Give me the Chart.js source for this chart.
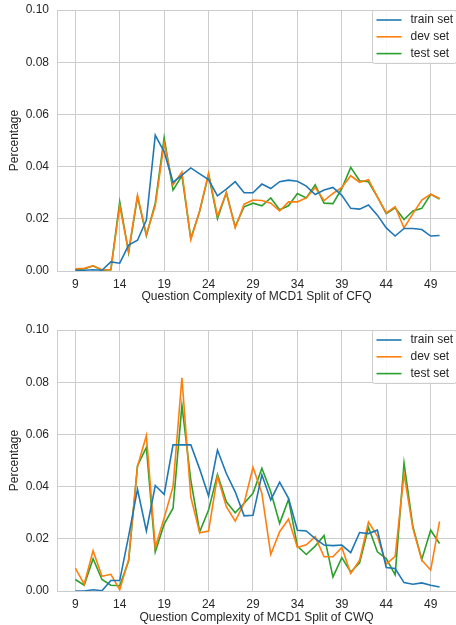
<!DOCTYPE html>
<html>
<head>
<meta charset="utf-8">
<script src="https://cdn.jsdelivr.net/npm/chart.js@4.4.1/dist/chart.umd.min.js"></script>
<style>
    html, body { margin: 0; padding: 0; background: #fff; }
    canvas { display: block; }
</style>
</head>
<body>
<canvas id="cfqChart" width="456" height="310"></canvas>
<canvas id="cwqChart" width="456" height="315"></canvas>
<script>
// question complexity values (x axis)
const complexity = [9, 10, 11, 12, 13, 14, 15, 16, 17, 18, 19, 20, 21, 22, 23, 24, 25, 26, 27, 28, 29,
    30, 31, 32, 33, 34, 35, 36, 37, 38, 39, 40, 41, 42, 43, 44, 45, 46, 47, 48, 49, 50];
const xTicks = [9, 14, 19, 24, 29, 34, 39, 44, 49];
const yTicks = [0, 0.02, 0.04, 0.06, 0.08, 0.10];
const seriesNames = ['train set', 'dev set', 'test set'];

// MCD1 split of CFQ
const cfqTrain = [0.0002, 0.0003, 0.0005, 0.0003, 0.0035, 0.0030, 0.0099, 0.0118, 0.0195, 0.0520, 0.0457,
    0.0340, 0.0367, 0.0395, 0.0372, 0.0350, 0.0288, 0.0314, 0.0342, 0.0300, 0.0300, 0.0333, 0.0316, 0.0342,
    0.0348, 0.0344, 0.0325, 0.0293, 0.0310, 0.0320, 0.0290, 0.0240, 0.0237, 0.0253, 0.0214, 0.0165, 0.0134,
    0.0163, 0.0163, 0.0159, 0.0134, 0.0136];
const cfqDev = [0.0008, 0.0010, 0.0020, 0.0005, 0.0005, 0.0250, 0.0075, 0.0290, 0.0140, 0.0250, 0.0490,
    0.0330, 0.0380, 0.0120, 0.0230, 0.0375, 0.0210, 0.0300, 0.0165, 0.0256, 0.0272, 0.0270, 0.0260, 0.0230,
    0.0265, 0.0265, 0.0280, 0.0320, 0.0270, 0.0297, 0.0320, 0.0365, 0.0340, 0.0350, 0.0284, 0.0223, 0.0246,
    0.0165, 0.0220, 0.0272, 0.0294, 0.0278];
const cfqTest = [0.0005, 0.0008, 0.0020, 0.0003, 0.0005, 0.0265, 0.0070, 0.0285, 0.0135, 0.0260, 0.0510,
    0.0310, 0.0365, 0.0125, 0.0230, 0.0370, 0.0200, 0.0300, 0.0170, 0.0246, 0.0260, 0.0250, 0.0280, 0.0235,
    0.0250, 0.0297, 0.0280, 0.0330, 0.0260, 0.0258, 0.0316, 0.0397, 0.0346, 0.0342, 0.0284, 0.0220, 0.0242,
    0.0197, 0.0230, 0.0240, 0.0294, 0.0276];

// MCD1 split of CWQ
const cwqTrain = [0.0000, 0.0000, 0.0005, 0.0001, 0.0040, 0.0040, 0.0210, 0.0390, 0.0230, 0.0404, 0.0370,
    0.0560, 0.0560, 0.0560, 0.0467, 0.0364, 0.0540, 0.0450, 0.0380, 0.0288, 0.0290, 0.0445, 0.0349, 0.0417,
    0.0355, 0.0233, 0.0230, 0.0201, 0.0176, 0.0174, 0.0176, 0.0147, 0.0224, 0.0220, 0.0233, 0.0090, 0.0086,
    0.0032, 0.0026, 0.0031, 0.0022, 0.0015];
const cwqDev = [0.0088, 0.0026, 0.0154, 0.0056, 0.0064, 0.0005, 0.0120, 0.0477, 0.0596, 0.0167, 0.0280,
    0.0400, 0.0817, 0.0360, 0.0223, 0.0230, 0.0440, 0.0323, 0.0268, 0.0336, 0.0474, 0.0374, 0.0140, 0.0227,
    0.0276, 0.0167, 0.0177, 0.0208, 0.0131, 0.0131, 0.0167, 0.0067, 0.0118, 0.0264, 0.0210, 0.0103, 0.0133,
    0.0449, 0.0240, 0.0118, 0.0080, 0.0267];
const cwqTest = [0.0044, 0.0022, 0.0124, 0.0044, 0.0022, 0.0020, 0.0115, 0.0480, 0.0550, 0.0150, 0.0256,
    0.0317, 0.0711, 0.0425, 0.0227, 0.0310, 0.0447, 0.0342, 0.0300, 0.0336, 0.0374, 0.0470, 0.0380, 0.0259,
    0.0351, 0.0172, 0.0140, 0.0172, 0.0213, 0.0054, 0.0128, 0.0073, 0.0108, 0.0244, 0.0150, 0.0124, 0.0062,
    0.0490, 0.0246, 0.0121, 0.0233, 0.0182];

const colors = ['#1f77b4', '#ff7f0e', '#2ca02c'];
const textColor = '#262626';
const gridColor = '#cccccc';
const font = { family: "'Liberation Sans', Arial, sans-serif", size: 12 };

// legend box drawn inside the plot, upper right (like matplotlib)
const insideLegend = {
    id: 'insideLegend',
    afterDatasetsDraw(chart) {
        const { ctx, chartArea } = chart;
        const w = 84, h = 53;
        const x = chartArea.right - w + 0.5, y = chartArea.top + 0.5;
        ctx.save();
        ctx.fillStyle = 'rgba(255,255,255,0.85)';
        ctx.strokeStyle = gridColor;
        ctx.lineWidth = 1;
        ctx.beginPath();
        ctx.roundRect(x, y, w, h, 2);
        ctx.fill();
        ctx.stroke();
        ctx.font = `${font.size}px ${font.family}`;
        ctx.textBaseline = 'middle';
        chart.data.datasets.forEach((ds, i) => {
            const cy = y + 9.5 + i * 16.8;
            ctx.strokeStyle = ds.borderColor;
            ctx.lineWidth = 1.6;
            ctx.beginPath();
            ctx.moveTo(x + 4, cy);
            ctx.lineTo(x + 29, cy);
            ctx.stroke();
            ctx.fillStyle = textColor;
            ctx.fillText(ds.label, x + 38, cy);
        });
        ctx.restore();
    }
};

function makeChart(canvasId, xTitle, series, padTop, xAxisHeight, titlePadBottom) {
    const ctx = document.getElementById(canvasId);
    return new Chart(ctx, {
        type: 'line',
        data: {
            datasets: series.map((vals, i) => ({
                label: seriesNames[i],
                data: complexity.map((c, j) => ({ x: c, y: vals[j] })),
                borderColor: colors[i],
                borderWidth: 1.6,
                pointRadius: 0,
                tension: 0,
                fill: false
            }))
        },
        options: {
            responsive: false,
            animation: false,
            layout: { padding: { top: padTop, left: 0, right: 0, bottom: 0 } },
            plugins: { legend: { display: false }, tooltip: { enabled: false } },
            scales: {
                x: {
                    type: 'linear',
                    min: 6.94,
                    max: 51.85,
                    afterBuildTicks: axis => { axis.ticks = xTicks.map(v => ({ value: v })); },
                    afterFit: axis => {
                        axis.height = xAxisHeight;
                        axis.paddingLeft = 0;
                        axis.paddingRight = 0;
                    },
                    grid: { color: gridColor, drawTicks: false },
                    border: { color: gridColor },
                    ticks: { color: textColor, font: font, padding: 6, maxRotation: 0 },
                    title: { display: true, text: xTitle, color: textColor, font: font, padding: { top: 2, bottom: titlePadBottom } }
                },
                y: {
                    min: 0,
                    max: 0.1,
                    afterBuildTicks: axis => { axis.ticks = yTicks.map(v => ({ value: v })); },
                    afterFit: axis => {
                        axis.width = 57;
                        axis.paddingTop = 0;
                        axis.paddingBottom = 0;
                    },
                    grid: { color: gridColor, drawTicks: false },
                    border: { color: gridColor },
                    ticks: { color: textColor, font: font, padding: 8, callback: v => v.toFixed(2) },
                    title: { display: true, text: 'Percentage', color: textColor, font: font, padding: { top: 7, bottom: 0 } }
                }
            }
        },
        plugins: [insideLegend]
    });
}

makeChart('cfqChart', 'Question Complexity of MCD1 Split of CFQ', [cfqTrain, cfqDev, cfqTest], 10, 39, 6);
makeChart('cwqChart', 'Question Complexity of MCD1 Split of CWQ', [cwqTrain, cwqDev, cwqTest], 20, 34, 0);
</script>
</body>
</html>
